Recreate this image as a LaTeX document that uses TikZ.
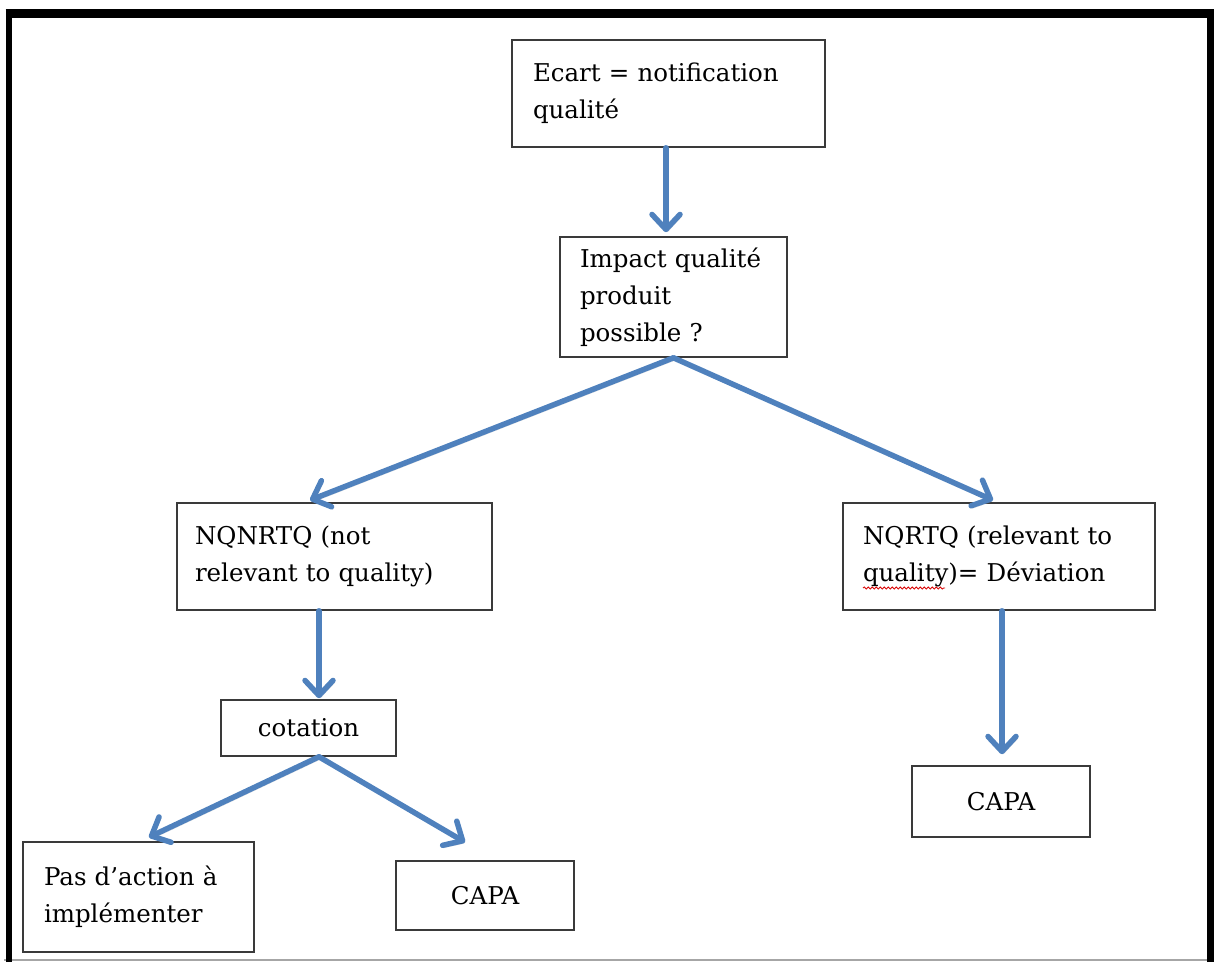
\documentclass[tikz,border=0pt]{standalone}
\usepackage{fontspec}
\setmainfont{DejaVu Serif}
\usetikzlibrary{arrows.meta,calc,decorations.pathmorphing}
\definecolor{arrowblue}{HTML}{4F81BD}
\definecolor{boxline}{HTML}{3A3A3A}
\begin{document}
\begin{tikzpicture}[x=1pt,y=-1pt,
  box/.style={draw=boxline, line width=1.6pt, fill=white, inner ysep=0pt,
    font=\fontsize{24.5}{37}\selectfont, anchor=center},
  lbox/.style={box, align=left},
  cbox/.style={box, align=center, inner xsep=0pt},
  flow/.style={draw=arrowblue, line width=5.5pt, line cap=round,
    -{Straight Barb[length=15pt,width=28pt,line cap=round,round]},
    preaction={draw=black!45, opacity=0.3, transform canvas={shift={(1.5pt,-2.5pt)}}}}
]
\useasboundingbox (0,0) rectangle (1218,962);
% frame
\draw[black!35, line width=2pt] (4,959.5) -- (1214,959.5);
\draw[line width=6pt] (8.5,962) -- (8.5,14);
\draw[line width=6.5pt] (1210.5,962) -- (1210.5,14);
\draw[line width=9.5pt] (5.5,13.5) -- (1213.75,13.5);

% boxes
\node[lbox, text width=271pt, inner xsep=21pt, minimum height=107pt] (b1) at (668.5,93.5)
  {Ecart = notification\\qualité};
\node[lbox, text width=187pt, inner xsep=20pt, minimum height=120pt] (b2) at (673.5,297)
  {Impact qualité\\produit\\possible ?};
\node[lbox, text width=279pt, inner xsep=18pt, minimum height=107pt] (b3) at (334.5,556.5)
  {NQNRTQ (not\\relevant to quality)};
\node[lbox, text width=272pt, inner xsep=20pt, minimum height=107pt] (b4) at (999,556.5)
  {NQRTQ (relevant to\\quality)= Déviation};
\node[cbox, minimum width=175pt, minimum height=56pt] (cot) at (308.5,728) {cotation};
\node[lbox, text width=189pt, inner xsep=21pt, minimum height=110pt] (b6) at (138.5,897)
  {Pas d’action à\\implémenter};
\node[cbox, minimum width=178pt, minimum height=69pt] (b7) at (485,895.5) {CAPA};
\node[cbox, minimum width=178pt, minimum height=71pt] (b8) at (1001,801.5) {CAPA};

% spell-check squiggle under "quality"
\draw[red!85!black, line width=0.8pt, decorate,
  decoration={snake, amplitude=1.1pt, segment length=4pt}] (863,588) -- (945,588);

% connectors
\draw[flow] ($(b1.south)+(-2.5,0)$) -- ($(b2.north)+(-7.5,-4)$);
\draw[flow] (b2.south) -- ($(b3.north)+(-24.5,-2)$);
\draw[flow] (b2.south) -- ($(b4.north)+(-6,-2)$);
\draw[flow] ($(b3.south)+(-15.5,0)$) -- ($(cot.north)+(10.5,-1)$);
\draw[flow] ($(cot.south)+(10.5,0)$) -- ($(b6.north)+(10.5,-4)$);
\draw[flow] ($(cot.south)+(10.5,0)$) -- ($(b7.north)+(-20,-18)$);
\draw[flow] ($(b4.south)+(3,0)$) -- ($(b8.north)+(1,-11)$);
\end{tikzpicture}
\end{document}
